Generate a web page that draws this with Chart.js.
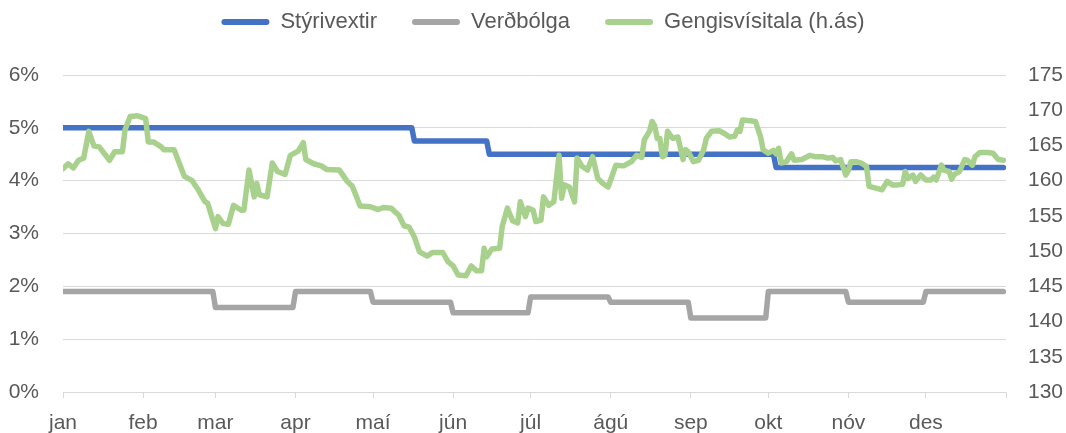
<!DOCTYPE html>
<html>
<head>
<meta charset="utf-8">
<script src="https://cdn.jsdelivr.net/npm/chart.js@4/dist/chart.umd.min.js"></script>
<style>
  html, body { margin: 0; padding: 0; background: #fff; }
  #wrap { width: 1066px; height: 433px; position: relative; }
</style>
</head>
<body>
<div id="wrap"><canvas id="chart"></canvas></div>
<script>
// Months on the x axis (day of year where each month starts)
const monthLabels = ['jan', 'feb', 'mar', 'apr', 'maí', 'jún', 'júl', 'ágú', 'sep', 'okt', 'nóv', 'des'];
const monthStarts = [0, 31, 59, 90, 120, 151, 181, 212, 243, 273, 304, 334, 365];
const lastDay = 364;

// Stýrivextir (%): day each level starts and its value
const rateStart = [0, 136, 165, 276];
const rateValues = [5.0, 4.75, 4.5, 4.25];

// Verðbólga (%): monthly values
const inflStart = [0, 59, 90, 120, 151, 181, 212, 243, 273, 304, 334];
const inflValues = [1.9, 1.6, 1.9, 1.7, 1.5, 1.8, 1.7, 1.4, 1.9, 1.7, 1.9];

// Gengisvísitala (right axis)
const fxDays = [
  0, 2, 4, 6, 8, 10, 12, 14, 18, 20, 23, 24, 26, 29, 32, 33, 35, 38, 39, 43,
  47, 50, 52, 55, 56, 59, 60, 62, 64, 66, 69, 70, 72, 74, 75, 76, 79, 81, 83, 86,
  88, 91, 93, 94, 97, 100, 102, 107, 110, 112, 115, 119, 122, 124, 127, 130, 132, 134, 136, 138,
  141, 143, 147, 149, 151, 153, 156, 158, 160, 162, 163, 164, 166, 169, 170, 172, 174, 176, 177, 179,
  180, 182, 183, 185, 186, 188, 190, 192, 193, 194, 196, 198, 199, 201, 203, 205, 207, 209, 211, 214,
  217, 220, 222, 224, 225, 227, 228, 229, 230, 231, 232, 233, 234, 236, 238, 240, 241, 242, 244, 246,
  248, 249, 251, 254, 256, 258, 260, 261, 262, 263, 266, 268, 270, 271, 273, 275, 276, 277, 278, 280,
  282, 283, 286, 289, 291, 294, 296, 298, 299, 301, 303, 304, 305, 307, 309, 311, 312, 315, 317, 319,
  321, 323, 325, 326, 327, 329, 330, 332, 334, 336, 337, 338, 340, 341, 343, 344, 345, 347, 349, 350,
  352, 353, 355, 358, 360, 362, 364
];
const fxValues = [
  161.7, 162.4, 161.8, 162.9, 163.2, 167.0, 164.9, 164.8, 162.9, 164.1, 164.1, 167.2, 169.1, 169.2, 168.8, 165.5, 165.5, 164.8, 164.4, 164.4,
  160.6, 160.0, 158.9, 157.0, 156.8, 153.2, 154.9, 153.9, 153.8, 156.5, 155.8, 155.8, 161.5, 157.7, 159.6, 158.0, 157.7, 162.5, 161.3, 160.9,
  163.6, 164.2, 165.4, 163.0, 162.4, 162.1, 161.6, 161.5, 159.9, 159.2, 156.4, 156.3, 155.9, 156.2, 156.1, 155.1, 153.6, 153.4, 152.0, 149.9,
  149.3, 149.8, 149.8, 148.5, 147.9, 146.6, 146.5, 147.9, 147.2, 147.2, 150.4, 149.2, 150.3, 150.4, 153.5, 156.1, 154.3, 154.0, 157.0, 154.9,
  156.1, 155.8, 154.2, 154.4, 157.7, 156.5, 157.0, 163.6, 157.5, 159.4, 159.1, 157.0, 163.2, 162.0, 161.5, 163.4, 160.3, 159.6, 159.1, 162.2,
  162.1, 162.7, 163.6, 163.3, 165.8, 167.0, 168.4, 167.8, 166.0, 166.0, 163.4, 163.6, 167.0, 166.0, 166.2, 163.0, 164.4, 164.1, 162.7, 162.9,
  164.4, 166.0, 167.0, 167.1, 166.7, 166.2, 166.3, 167.2, 167.0, 168.6, 168.5, 168.4, 166.2, 164.4, 163.9, 164.3, 163.8, 164.6, 162.5, 162.7,
  163.8, 162.9, 163.0, 163.6, 163.4, 163.4, 163.2, 163.3, 162.8, 163.0, 160.8, 161.5, 162.7, 162.7, 162.5, 162.0, 159.2, 158.9, 158.7, 159.9,
  159.4, 159.4, 159.5, 161.3, 160.3, 160.8, 159.9, 160.8, 160.1, 160.1, 160.5, 160.1, 162.2, 161.5, 161.3, 160.2, 160.9, 161.3, 163.0, 162.9,
  162.2, 163.4, 164.0, 164.0, 163.9, 163.0, 162.9
];

const textColor = '#595959';
const gridColor = '#d9d9d9';
const fontFamily = '"Liberation Sans", Arial, sans-serif';

// each level holds from its start day until the day before the next one
function stepPoints(starts, values) {
  const pts = [];
  starts.forEach((s, i) => {
    const end = i < starts.length - 1 ? starts[i + 1] - 1 : lastDay;
    pts.push({ x: s, y: values[i] }, { x: end, y: values[i] });
  });
  return pts;
}

const fxPoints = fxDays.map((d, i) => ({ x: d, y: fxValues[i] }));

// legend sits higher and a bit to the right of where Chart.js puts it
const legendPlacement = {
  id: 'legendPlacement',
  beforeInit(chart) {
    const fit = chart.legend.fit;
    chart.legend.fit = function () {
      fit.call(this);
      this.height = 75;
    };
  },
  afterLayout(chart) {
    const lg = chart.legend;
    lg.top -= 24;
    lg.bottom -= 24;
    lg.left += 10;
    lg.right += 10;
  }
};

const lineStyle = {
  borderWidth: 5.5,
  pointRadius: 0,
  pointHoverRadius: 0,
  tension: 0,
  fill: false,
  borderJoinStyle: 'round',
  borderCapStyle: 'round'
};

new Chart(document.getElementById('chart'), {
  type: 'line',
  data: {
    datasets: [
      {
        ...lineStyle,
        label: 'Stýrivextir',
        data: stepPoints(rateStart, rateValues),
        borderColor: '#4472C4',
        backgroundColor: '#4472C4',
        yAxisID: 'y',
        order: 1
      },
      {
        ...lineStyle,
        label: 'Verðbólga',
        data: stepPoints(inflStart, inflValues),
        borderColor: '#A5A5A5',
        backgroundColor: '#A5A5A5',
        yAxisID: 'y',
        order: 2
      },
      {
        ...lineStyle,
        label: 'Gengisvísitala (h.ás)',
        data: fxPoints,
        borderColor: '#A9D18E',
        backgroundColor: '#A9D18E',
        yAxisID: 'y1',
        order: 0
      }
    ]
  },
  options: {
    responsive: true,
    maintainAspectRatio: false,
    animation: false,
    layout: { padding: 0 },
    plugins: {
      tooltip: { enabled: false },
      legend: {
        position: 'top',
        align: 'center',
        labels: {
          boxWidth: 48,
          boxHeight: 6,
          padding: 35,
          useBorderRadius: true,
          borderRadius: 3,
          color: textColor,
          font: { family: fontFamily, size: 22 },
          sort: (a, b) => a.datasetIndex - b.datasetIndex,
          generateLabels: chart =>
            Chart.defaults.plugins.legend.labels.generateLabels(chart).map(item =>
              Object.assign(item, { fillStyle: item.strokeStyle, lineWidth: 0 })
            )
        }
      }
    },
    scales: {
      x: {
        type: 'linear',
        min: 0,
        max: 365,
        afterBuildTicks: scale => {
          scale.ticks = monthStarts.map(v => ({ value: v }));
        },
        afterFit: scale => {
          scale.height = 41;
        },
        ticks: {
          autoSkip: false,
          maxRotation: 0,
          padding: 13,
          color: textColor,
          font: { family: fontFamily, size: 21 },
          callback: value => {
            const i = monthStarts.indexOf(value);
            return i >= 0 && i < monthLabels.length ? monthLabels[i] : '';
          }
        },
        grid: { drawOnChartArea: false, drawTicks: true, tickLength: 6, color: gridColor },
        border: { color: gridColor }
      },
      y: {
        position: 'left',
        min: 0,
        max: 6,
        afterFit: scale => {
          scale.width = 63;
        },
        ticks: {
          stepSize: 1,
          padding: 24,
          color: textColor,
          font: { family: fontFamily, size: 21 },
          callback: value => value + '%'
        },
        grid: { color: gridColor, drawTicks: false },
        border: { display: false }
      },
      y1: {
        position: 'right',
        min: 130,
        max: 175,
        afterFit: scale => {
          scale.width = 60;
        },
        ticks: {
          stepSize: 5,
          padding: 22,
          color: textColor,
          font: { family: fontFamily, size: 21 }
        },
        grid: { drawOnChartArea: false, drawTicks: false },
        border: { display: false }
      }
    }
  },
  plugins: [legendPlacement]
});
</script>
</body>
</html>
